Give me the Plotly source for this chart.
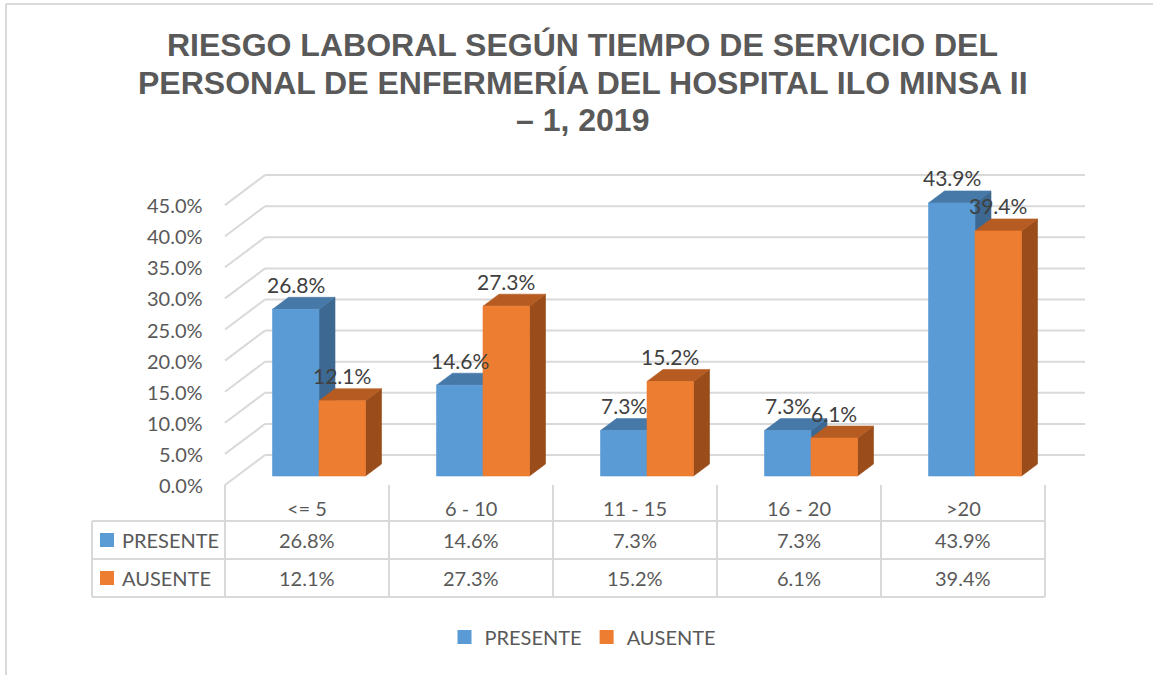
import plotly.graph_objects as go

# ---------------- data ----------------
categories = ["<= 5", "6 - 10", "11 - 15", "16 - 20", ">20"]
series_names = ["PRESENTE", "AUSENTE"]
presente = [26.8, 14.6, 7.3, 7.3, 43.9]
ausente = [12.1, 27.3, 15.2, 6.1, 39.4]
y_ticks = [0, 5, 10, 15, 20, 25, 30, 35, 40, 45]
y_tick_labels = ["0.0%", "5.0%", "10.0%", "15.0%", "20.0%", "25.0%",
                 "30.0%", "35.0%", "40.0%", "45.0%"]
title_lines = ["RIESGO LABORAL SEGÚN TIEMPO DE SERVICIO DEL",
               "PERSONAL DE ENFERMERÍA DEL HOSPITAL ILO MINSA II",
               "– 1, 2019"]

# ---------------- style / geometry ----------------
W, H = 1153, 675
X0_PX, CAT_PX = 225, 164      # left of category axis, px per category
Y0_PX, PCT_PX = 485, 6.22     # 0 % (front) and px per percentage point

def xu(px):
    return (px - X0_PX) / CAT_PX

def yu(py):
    return (Y0_PX - py) / PCT_PX

DX, DY = 40 / CAT_PX, 30 / PCT_PX     # full depth of the 3-D box
F0, FD = 0.3, 0.4                     # bar front depth fraction, bar depth fraction
BAR_W = 46.5 / CAT_PX
WALL_END = xu(1085)

front_cols = ["#5B9BD5", "#ED7D31"]
top_cols = ["#4779A8", "#B65C22"]
side_cols = ["#3C6891", "#9A4C1B"]
grid_col = "#D9D9D9"
text_col = "#595959"
label_col = "#404040"
FONT = "Lato"
FS = 20

fig = go.Figure()

def poly(xs, ys, color):
    fig.add_trace(go.Scatter(x=xs + [xs[0]], y=ys + [ys[0]], mode="lines",
                             fill="toself", fillcolor=color,
                             line=dict(color=color, width=0.6),
                             hoverinfo="skip", showlegend=False))

annotations = []
series = [presente, ausente]
for i, cat in enumerate(categories):
    c = i + 0.5 + F0 * DX
    yb = F0 * DY
    for s, vals in enumerate(series):
        v = vals[i]
        x0 = c - BAR_W if s == 0 else c
        x1 = x0 + BAR_W
        yt = yb + v
        ddx, ddy = FD * DX, FD * DY
        # side face
        poly([x1, x1 + ddx, x1 + ddx, x1], [yb, yb + ddy, yt + ddy, yt], side_cols[s])
        # top face
        poly([x0, x1, x1 + ddx, x0 + ddx], [yt, yt, yt + ddy, yt + ddy], top_cols[s])
        # front face
        poly([x0, x1, x1, x0], [yb, yb, yt, yt], front_cols[s])
        annotations.append(dict(x=(x0 + x1) / 2, y=yt + 25 / PCT_PX, xref="x", yref="y",
                                text=f"{v:.1f}%", showarrow=False,
                                font=dict(family=FONT, size=FS + 1, color=label_col),
                                xanchor="center", yanchor="middle"))

# legend entries
for s, name in enumerate(series_names):
    fig.add_trace(go.Scatter(x=[None], y=[None], mode="markers", name=name,
                             marker=dict(symbol="square", size=14, color=front_cols[s])))

shapes = []
line_style = dict(color=grid_col, width=2)
# back wall gridlines + left wall diagonals
for t in y_ticks:
    shapes.append(dict(type="line", xref="x", yref="y", x0=DX, y0=t + DY,
                       x1=WALL_END, y1=t + DY, line=line_style, layer="below"))
    shapes.append(dict(type="line", xref="x", yref="y", x0=0, y0=t,
                       x1=DX, y1=t + DY, line=line_style, layer="below"))

# y tick labels
for t, lab in zip(y_ticks, y_tick_labels):
    annotations.append(dict(x=xu(205), y=t, xref="x", yref="y", text=lab,
                            showarrow=False, xanchor="right", yanchor="middle",
                            font=dict(family=FONT, size=FS, color=text_col)))

# data table
n = len(categories)
tab_l, tab_r = xu(92), float(n)
row_y = [yu(521), yu(559), yu(597)]
for ry in row_y:
    shapes.append(dict(type="line", xref="x", yref="y", x0=tab_l, y0=ry, x1=tab_r, y1=ry,
                       line=line_style))
shapes.append(dict(type="line", xref="x", yref="y", x0=tab_l, y0=row_y[0], x1=tab_l,
                   y1=row_y[2], line=line_style))
for k in range(n + 1):
    shapes.append(dict(type="line", xref="x", yref="y", x0=k, y0=yu(485), x1=k,
                       y1=row_y[2], line=line_style))
for i, cat in enumerate(categories):
    annotations.append(dict(x=i + 0.5, y=yu(508), xref="x", yref="y", text=cat,
                            showarrow=False, font=dict(family=FONT, size=FS, color=text_col)))
row_centers = [yu(540), yu(578)]
for s, name in enumerate(series_names):
    yc = row_centers[s]
    shapes.append(dict(type="rect", xref="x", yref="y", x0=xu(100), x1=xu(114),
                       y0=yc - 7 / PCT_PX, y1=yc + 7 / PCT_PX,
                       fillcolor=front_cols[s], line=dict(width=0)))
    annotations.append(dict(x=xu(120), y=yc, xref="x", yref="y", text=name,
                            showarrow=False, xanchor="left", yanchor="middle",
                            font=dict(family=FONT, size=FS, color=text_col)))
    for i, v in enumerate(series[s]):
        annotations.append(dict(x=i + 0.5, y=yc, xref="x", yref="y", text=f"{v:.1f}%",
                                showarrow=False, xanchor="center", yanchor="middle",
                                font=dict(family=FONT, size=FS, color=text_col)))

# outer chart border (only top + left edges are visible)
shapes.append(dict(type="line", xref="x", yref="y", x0=xu(6), y0=yu(4), x1=xu(W),
                   y1=yu(4), line=line_style, layer="below"))
shapes.append(dict(type="line", xref="x", yref="y", x0=xu(6), y0=yu(4), x1=xu(6),
                   y1=yu(H), line=line_style, layer="below"))

# title
for j, (line, py) in enumerate(zip(title_lines, [45, 83, 120])):
    annotations.append(dict(x=582.5 / W, y=1 - py / H, xref="paper", yref="paper",
                            text=f"<b>{line}</b>", showarrow=False,
                            xanchor="center", yanchor="middle",
                            font=dict(family="Liberation Sans, Arial", size=32, color=text_col)))

fig.update_layout(
    width=W, height=H,
    margin=dict(l=0, r=0, t=0, b=0),
    paper_bgcolor="white", plot_bgcolor="white",
    xaxis=dict(range=[xu(0), xu(W)], visible=False, fixedrange=True),
    yaxis=dict(range=[yu(H), yu(0)], visible=False, fixedrange=True),
    shapes=shapes, annotations=annotations,
    showlegend=True,
    legend=dict(orientation="h", x=583 / W, xanchor="center", y=1 - 637 / H,
                yanchor="middle", font=dict(family=FONT, size=FS, color=text_col),
                bgcolor="rgba(0,0,0,0)", itemclick=False, itemdoubleclick=False),
)

fig.write_html("out.html", config={"displayModeBar": False},
               post_script="document.body.style.margin='0';document.body.style.overflow='hidden';")
